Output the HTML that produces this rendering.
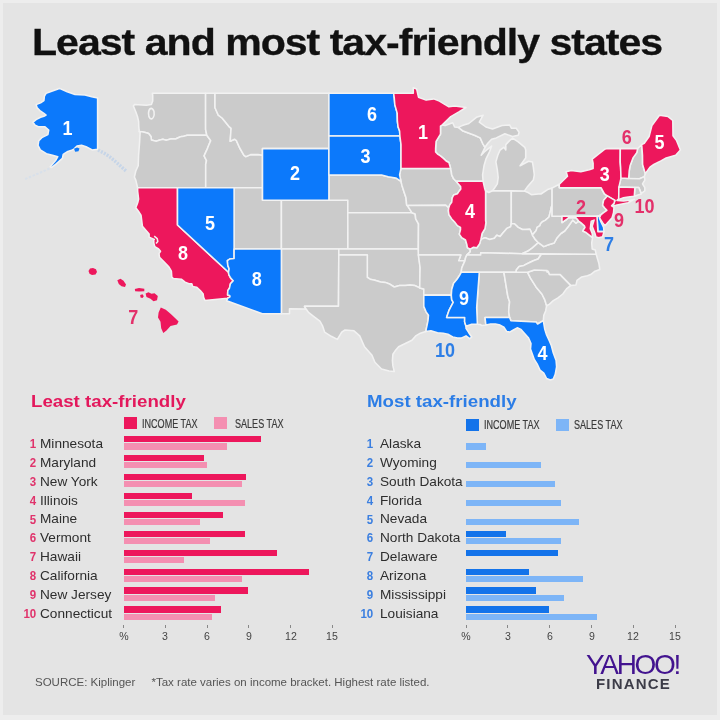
<!DOCTYPE html>
<html><head><meta charset="utf-8">
<style>
*{margin:0;padding:0;box-sizing:border-box}
html,body{width:720px;height:720px;overflow:hidden}
body{background:#e4e4e4;font-family:"Liberation Sans",sans-serif;position:relative}
.frame{position:absolute;left:0;top:0;width:720px;height:720px;border:solid #ededed;border-width:3px 3px 5px 3px}
.title{position:absolute;left:32.2px;top:21.8px;font-weight:bold;font-size:37px;color:#111;white-space:nowrap;
 letter-spacing:-0.9px;-webkit-text-stroke:0.3px #111;transform-origin:0 0;transform:scaleX(1.11)}
svg{position:absolute;left:0;top:0}
.lab text{font-family:"Liberation Sans",sans-serif;font-weight:bold;font-size:20px;text-anchor:middle;stroke:none}
.stitle{position:absolute;top:391.8px;font-weight:bold;font-size:17px;white-space:nowrap;transform-origin:0 0;transform:scaleX(1.1)}
.lsq{position:absolute;width:13px;height:12px}
.ltx{position:absolute;font-size:12px;color:#3a3a3a;-webkit-text-stroke:0.2px #3a3a3a;white-space:nowrap;transform-origin:0 0;transform:scaleX(0.755)}
.num{position:absolute;font-size:12.8px;font-weight:bold;white-space:nowrap;transform-origin:right top;transform:scaleX(0.9)}
.nm{position:absolute;font-size:13px;color:#2e2e2e;white-space:nowrap;transform-origin:0 0;transform:scaleX(1.05)}
.bar{position:absolute;height:6.3px}
.tick{position:absolute;top:625px;width:1px;height:3px;background:#888}
.tl{position:absolute;top:630px;width:30px;text-align:center;font-size:11.5px;color:#444;transform:scaleX(0.92)}
.foot{position:absolute;top:676px;font-size:11.5px;color:#555;white-space:nowrap}
.yahoo{position:absolute;left:586px;top:648.5px;font-size:28px;color:#42138f;letter-spacing:-2.3px;white-space:nowrap}
.fin{position:absolute;left:596px;top:675px;font-size:15px;font-weight:bold;color:#3c3c48;letter-spacing:1.2px;white-space:nowrap}
#wrap{position:absolute;left:0;top:0;width:720px;height:720px;background:#e4e4e4;filter:blur(0.3px)}
</style></head><body><div id="wrap">
<div class="frame"></div>
<div class="title">Least and most tax-friendly states</div>
<svg width="720" height="720" viewBox="0 0 720 720">
<g stroke="#f2f2f2" stroke-width="1.55" stroke-linejoin="round">
<path d="M152.4,93.2 205.6,93.2 205.6,129.3 206.8,135.2 187.2,135.2 183.7,136.2 180.4,136.8 175.6,139.0 171.4,138.8 166.2,140.3 162.8,139.2 159.0,140.2 156.2,141.3 151.4,139.9 151.0,136.5 148.6,133.5 145.3,132.4 142.0,131.8 139.3,131.6 138.8,127.0 138.6,121.4 137.7,117.3 135.8,111.7 133.4,106.0 134.4,104.6 138.6,104.8 146.2,105.2 151.4,104.6 152.7,101.1 152.7,95.4Z" fill="#cbcbcb"/>
<path d="M139.3,131.6 142.0,131.8 145.3,132.4 148.6,133.5 151.0,136.5 151.4,139.9 156.2,141.3 159.0,140.2 162.8,139.2 166.2,140.3 171.4,138.8 175.6,139.0 180.4,136.8 183.7,136.2 187.2,135.2 206.8,135.2 210.7,140.6 208.4,146.0 207.4,148.6 204.1,155.9 206.5,160.6 205.7,164.5 205.7,187.7 177.5,187.7 137.6,187.7 135.8,180.1 134.4,177.0 135.8,171.0 138.2,165.8 138.6,155.3 139.6,141.9 140.1,132.4Z" fill="#cbcbcb"/>
<path d="M205.6,93.2 215.0,93.2 215.0,107.7 218.3,115.2 222.1,118.0 228.8,126.3 231.1,128.3 230.2,141.3 234.5,139.2 236.4,140.6 239.7,148.0 244.0,155.3 245.9,156.6 250.6,154.6 258.2,154.6 262.5,155.3 262.5,187.7 205.7,187.7 205.7,164.5 206.5,160.6 204.1,155.9 207.4,148.6 208.4,146.0 210.7,140.6 206.8,135.2 205.6,129.3Z" fill="#cbcbcb"/>
<path d="M215.0,93.2 328.9,93.2 328.9,148.6 262.5,148.6 262.5,155.3 258.2,154.6 250.6,154.6 245.9,156.6 244.0,155.3 239.7,148.0 236.4,140.6 234.5,139.2 230.2,141.3 231.1,128.3 228.8,126.3 222.1,118.0 218.3,115.2 215.0,107.7Z" fill="#cbcbcb"/>
<path d="M234.1,187.7 262.5,187.7 262.5,200.3 281.4,200.3 281.4,249.0 234.1,249.0Z" fill="#cbcbcb"/>
<path d="M281.4,200.3 347.8,200.3 347.8,249.0 281.4,249.0Z" fill="#cbcbcb"/>
<path d="M281.4,249.0 338.8,249.0 338.8,254.9 338.5,306.3 304.5,306.3 306.1,309.0 289.5,308.7 289.5,313.7 281.4,313.7Z" fill="#cbcbcb"/>
<path d="M328.9,174.9 381.5,174.9 388.2,176.8 395.8,177.9 401.0,181.3 401.9,185.2 404.3,192.8 406.0,197.8 406.7,205.3 407.4,205.6 411.9,212.7 347.8,212.7 347.8,200.3 328.9,200.3Z" fill="#cbcbcb"/>
<path d="M347.8,212.7 411.9,212.7 415.2,214.0 415.7,218.9 418.5,223.8 418.3,249.0 347.9,249.0Z" fill="#cbcbcb"/>
<path d="M338.8,249.0 418.3,249.0 420.1,267.7 419.7,287.9 414.7,285.5 410.0,285.1 405.3,285.5 399.6,285.5 394.3,287.0 390.1,284.3 385.3,282.4 380.6,282.1 374.9,280.3 370.1,279.2 367.3,277.4 367.3,254.9 338.8,254.9Z" fill="#cbcbcb"/>
<path d="M338.8,254.9 367.3,254.9 367.3,277.4 370.1,279.2 374.9,280.3 380.6,282.1 385.3,282.4 390.1,284.3 394.3,287.0 399.6,285.5 405.3,285.5 410.0,285.1 414.7,285.5 419.7,287.9 423.8,288.9 423.8,295.1 423.8,306.4 426.1,311.9 428.5,315.2 428.0,320.7 427.1,325.1 425.7,331.6 420.4,333.2 415.7,335.9 411.9,340.3 405.3,343.5 398.6,346.7 395.8,349.9 392.9,354.2 392.4,360.6 392.9,365.9 394.3,371.6 389.1,371.1 381.5,369.0 374.9,362.2 372.0,355.3 364.5,346.7 359.7,335.9 354.0,330.8 345.0,330.0 341.7,332.1 337.4,339.4 331.2,336.3 324.6,332.1 322.7,326.2 319.9,321.2 314.2,316.8 308.5,312.4 306.1,309.0 304.5,306.3 338.5,306.3Z" fill="#cbcbcb"/>
<path d="M401.0,168.4 450.6,168.4 451.3,171.7 451.7,174.9 453.6,178.8 456.1,181.3 458.4,183.9 460.6,186.4 460.8,189.0 459.3,190.9 457.4,193.8 453.6,195.1 452.2,197.8 451.7,202.2 449.8,204.7 448.7,208.0 445.8,205.2 407.4,205.6 406.7,205.3 406.0,197.8 404.3,192.8 401.9,185.2 401.0,181.3 399.6,174.9Z" fill="#cbcbcb"/>
<path d="M407.4,205.6 445.8,205.2 448.7,208.0 448.4,210.9 448.9,214.6 451.7,218.9 455.1,222.6 457.4,225.6 460.5,227.4 460.5,229.8 459.3,234.1 461.7,237.7 465.5,240.0 466.9,244.8 467.4,247.8 470.2,249.2 470.2,251.9 466.9,254.9 465.5,257.8 465.0,260.7 458.7,260.7 460.8,254.9 418.3,254.9 418.5,223.8 415.7,218.9 415.2,214.0 411.9,212.7 407.4,205.6Z" fill="#cbcbcb"/>
<path d="M418.3,254.9 460.8,254.9 458.7,260.7 465.0,260.7 463.1,264.8 461.7,268.3 461.2,272.3 459.3,275.8 457.0,279.2 453.6,283.2 451.7,289.5 451.3,295.1 423.8,295.1 423.8,288.9 419.7,287.9 420.1,267.7Z" fill="#cbcbcb"/>
<path d="M442.3,124.9 440.5,126.1 440.5,134.1 436.1,141.3 435.6,148.6 435.6,152.0 438.0,154.4 440.4,155.9 443.7,158.6 446.1,161.0 448.9,162.5 450.6,168.4 451.3,171.7 451.7,174.9 453.6,178.8 456.1,181.3 483.1,181.3 482.6,174.9 484.0,165.8 485.9,159.2 489.7,151.3 491.6,146.0 485.0,151.3 481.2,155.3 485.0,147.3 482.6,143.3 480.2,137.9 474.5,135.2 463.1,131.1 458.4,127.4 454.6,127.0 452.7,122.8 445.1,125.6Z" fill="#cbcbcb"/>
<path d="M485.6,190.8 488.7,192.5 492.5,190.8 511.3,190.8 511.3,223.8 510.6,226.8 506.8,228.4 502.5,233.5 500.1,236.5 496.8,235.3 494.4,238.3 489.7,239.4 485.0,237.7 480.9,239.4 482.1,233.5 485.0,228.6 485.9,222.6 485.6,220.7Z" fill="#cbcbcb"/>
<path d="M511.3,190.8 524.3,191.1 528.6,192.8 531.4,194.7 538.1,194.0 540.9,194.0 547.6,189.6 552.1,188.0 552.1,204.8 551.2,207.8 550.2,212.1 549.0,217.0 545.2,220.4 542.4,221.7 540.5,223.8 540.0,225.6 537.1,227.4 536.2,230.4 532.4,235.0 530.0,229.2 525.7,229.6 522.4,229.5 518.2,227.4 514.4,223.8 511.3,223.8Z" fill="#cbcbcb"/>
<path d="M532.4,235.0 530.0,229.2 525.7,229.6 522.4,229.5 518.2,227.4 514.4,223.8 511.3,223.8 510.6,226.8 506.8,228.4 502.5,233.5 500.1,236.5 496.8,235.3 494.4,238.3 489.7,239.4 485.0,237.7 480.9,239.4 479.7,243.6 476.9,247.8 473.6,247.2 470.2,249.2 470.2,251.9 466.9,254.9 480.7,254.9 480.7,252.7 522.1,253.7 528.6,250.7 532.4,247.8 535.2,245.4 538.4,242.7 535.2,239.4 532.4,235.0Z" fill="#cbcbcb"/>
<path d="M466.9,254.9 480.7,254.9 480.7,252.7 522.1,253.7 541.4,253.7 538.1,259.0 533.3,260.7 528.6,263.0 523.9,265.4 519.1,266.5 516.3,270.0 516.1,272.3 503.9,272.3 479.3,272.3 461.2,272.3 461.7,268.3 463.1,264.8 465.0,260.7 465.5,257.8 466.9,254.9Z" fill="#cbcbcb"/>
<path d="M479.3,272.3 503.9,272.3 507.9,296.8 509.6,301.8 509.1,306.3 508.7,311.9 509.6,317.4 485.0,317.4 485.9,325.1 482.1,325.6 480.2,324.5 477.4,324.2 476.7,307.4Z" fill="#cbcbcb"/>
<path d="M503.9,272.3 516.1,272.3 527.6,272.3 530.5,278.1 536.2,287.2 541.9,294.0 544.7,299.6 546.6,305.7 545.7,310.7 543.8,315.2 543.3,320.7 537.6,324.0 536.2,322.1 510.9,320.7 509.6,317.4 508.7,311.9 509.1,306.3 509.6,301.8 507.9,296.8 503.9,272.3Z" fill="#cbcbcb"/>
<path d="M527.6,272.3 534.3,270.0 547.1,270.6 547.2,271.9 548.2,271.2 549.5,274.4 560.2,274.6 570.8,285.4 566.5,288.9 562.8,294.0 558.0,297.9 553.3,300.7 549.5,304.1 546.6,305.7 544.7,299.6 541.9,294.0 536.2,287.2 530.5,278.1 527.6,272.3Z" fill="#cbcbcb"/>
<path d="M516.1,272.3 527.6,272.3 534.3,270.0 547.1,270.6 547.2,271.9 548.2,271.2 549.5,274.4 560.2,274.6 570.8,285.4 576.0,284.9 577.0,280.3 581.7,276.9 587.4,275.8 590.7,274.6 595.0,271.2 599.8,269.4 598.8,263.0 597.4,258.4 596.2,254.3 541.4,254.3 538.1,259.0 533.3,260.7 528.6,263.0 523.9,265.4 519.1,266.5 516.3,270.0 516.1,272.3Z" fill="#cbcbcb"/>
<path d="M522.1,253.7 541.4,253.7 596.2,254.3 595.3,250.1 592.2,249.0 591.7,243.0 592.6,237.7 590.3,235.9 585.5,232.2 582.7,231.0 585.0,227.4 584.4,225.8 580.8,222.6 578.7,221.1 576.0,223.2 572.7,220.1 568.4,226.2 564.7,231.0 560.9,233.5 557.1,237.7 554.2,243.0 548.5,244.8 543.8,246.6 538.4,242.7 535.2,245.4 532.4,247.8 528.6,250.7 522.1,253.7Z" fill="#cbcbcb"/>
<path d="M538.4,242.7 535.2,239.4 532.4,235.0 536.2,230.4 537.1,227.4 540.0,225.6 540.5,223.8 542.4,221.7 545.2,220.4 549.0,217.0 550.2,212.1 551.2,207.8 552.1,204.8 552.1,216.2 562.0,216.2 562.0,222.6 566.5,219.5 568.4,217.7 572.2,217.7 576.0,217.7 578.7,221.1 576.0,223.2 572.7,220.1 568.4,226.2 564.7,231.0 560.9,233.5 557.1,237.7 554.2,243.0 548.5,244.8 543.8,246.6 538.4,242.7Z" fill="#cbcbcb"/>
<path d="M492.5,190.8 511.3,190.8 524.3,191.1 527.2,187.1 533.3,180.1 534.3,174.9 533.3,167.1 532.4,161.9 528.6,161.2 524.8,163.2 520.1,165.8 525.7,157.9 525.7,150.0 524.8,147.3 518.2,141.9 512.5,138.1 509.6,140.6 505.8,144.6 505.8,150.0 503.9,147.3 500.1,150.0 497.8,155.3 495.9,161.9 497.3,169.7 498.2,177.5 497.3,183.9 494.4,188.3Z" fill="#cbcbcb"/>
<path d="M458.4,127.4 463.1,131.1 474.5,135.2 480.2,137.9 482.6,143.3 485.0,147.3 487.8,143.3 491.6,139.2 496.3,137.9 504.9,133.8 512.5,136.5 518.2,135.2 519.1,132.4 516.3,128.3 511.5,128.3 509.6,124.9 502.0,125.6 492.5,129.0 485.9,127.0 479.3,122.1 481.2,118.7 483.1,115.2 476.4,117.3 468.8,123.5 462.2,125.6Z" fill="#cbcbcb"/>
<path d="M552.1,188.0 552.1,216.2 562.0,216.2 597.0,216.2 600.5,215.2 603.6,212.7 606.9,210.3 604.5,207.8 602.6,205.3 603.6,200.3 607.3,195.9 604.5,194.0 601.7,189.0 601.2,187.7 559.3,187.7 559.3,184.3Z" fill="#cbcbcb"/>
<path d="M637.7,148.5 636.8,152.6 633.0,157.9 630.1,165.8 629.2,171.0 628.7,178.4 639.6,178.8 644.3,176.6 645.3,173.6 642.6,164.5 642.5,155.3 641.7,144.6Z" fill="#cbcbcb"/>
<path d="M618.7,187.1 621.0,178.1 628.7,178.4 639.6,178.8 644.3,176.6 644.8,180.1 642.5,183.9 644.8,187.7 644.8,190.9 641.3,193.4 638.8,187.5 634.9,187.5Z" fill="#cbcbcb"/>
<path d="M634.9,187.5 638.8,187.5 641.3,194.0 638.7,194.7 634.3,196.3Z" fill="#cbcbcb"/>
<path d="M137.6,187.7 177.5,187.7 177.5,225.0 228.5,272.3 228.8,274.6 230.7,278.1 233.2,280.7 230.4,283.8 229.4,288.3 227.8,290.6 227.6,295.1 229.7,295.4 230.0,296.9 227.6,298.2 204.9,300.4 203.6,297.3 203.2,294.0 200.3,290.6 196.5,287.2 192.7,286.6 191.8,283.8 188.9,283.8 185.1,282.1 181.3,279.2 173.3,278.6 171.8,276.9 171.4,271.2 169.0,267.1 165.2,263.0 159.5,257.2 159.0,253.7 160.5,251.3 158.6,249.0 154.8,246.6 153.8,243.0 153.8,239.7 154.3,239.4 149.1,237.1 149.1,234.1 142.4,226.2 141.5,218.9 141.0,215.2 138.6,211.5 135.8,207.8 137.7,202.8 138.6,199.1 137.7,191.5Z" fill="#ed175c"/>
<path d="M177.5,187.7 234.1,187.7 234.1,258.4 229.7,259.0 227.4,260.7 227.8,265.4 229.1,268.8 228.5,272.3 177.5,225.0Z" fill="#0c79fb"/>
<path d="M262.5,148.6 328.9,148.6 328.9,200.3 262.5,200.3Z" fill="#0c79fb"/>
<path d="M234.1,249.0 281.4,249.0 281.4,313.7 262.3,313.7 226.7,300.7 227.6,298.2 230.0,296.9 229.7,295.4 227.6,295.1 227.8,290.6 229.4,288.3 230.4,283.8 233.2,280.7 230.7,278.1 228.8,274.6 228.5,272.3 229.1,268.8 227.8,265.4 227.4,260.7 229.7,259.0 234.1,258.4Z" fill="#0c79fb"/>
<path d="M328.9,93.2 393.6,93.2 394.3,98.2 394.8,104.6 397.2,113.1 397.4,121.4 398.1,127.0 399.6,131.1 399.9,136.0 328.9,136.0Z" fill="#0c79fb"/>
<path d="M328.9,136.0 399.9,136.0 401.0,144.6 401.0,168.4 399.6,174.9 401.0,181.3 395.8,177.9 388.2,176.8 381.5,174.9 328.9,174.9Z" fill="#0c79fb"/>
<path d="M393.6,93.2 413.3,93.2 413.3,87.7 416.6,88.9 418.5,97.2 426.1,100.1 433.7,98.9 439.4,101.1 448.9,106.8 454.6,106.0 466.0,107.5 459.3,111.7 450.8,116.6 442.3,124.9 440.5,126.1 440.5,134.1 436.1,141.3 435.6,148.6 435.6,152.0 438.0,154.4 440.4,155.9 443.7,158.6 446.1,161.0 448.9,162.5 450.6,168.4 401.0,168.4 401.0,144.6 399.9,136.0 399.6,131.1 398.1,127.0 397.4,121.4 397.2,113.1 394.8,104.6 394.3,98.2 393.6,93.2Z" fill="#ed175c"/>
<path d="M423.8,295.1 451.3,295.1 451.7,299.6 453.2,302.4 450.8,306.9 448.9,310.7 446.6,317.4 464.7,317.4 464.6,321.8 466.0,326.2 466.0,328.3 468.8,332.7 471.7,337.0 469.8,338.7 466.0,335.9 461.2,338.1 457.4,338.1 452.7,337.0 447.9,334.3 443.2,333.2 437.5,332.7 430.9,330.8 425.7,331.6 427.1,325.1 428.0,320.7 428.5,315.2 426.1,311.9 423.8,306.4 423.8,295.1Z" fill="#0c79fb"/>
<path d="M456.1,181.3 483.1,181.3 484.5,187.7 485.6,191.5 485.6,220.7 485.9,222.6 485.0,228.6 482.1,233.5 480.9,239.4 479.7,243.6 476.9,247.8 473.6,247.2 470.2,249.2 467.4,247.8 466.9,244.8 465.5,240.0 461.7,237.7 459.3,234.1 460.5,229.8 460.5,227.4 457.4,225.6 455.1,222.6 451.7,218.9 448.9,214.6 448.4,210.9 448.7,208.0 449.8,204.7 451.7,202.2 452.2,197.8 453.6,195.1 457.4,193.8 459.3,190.9 460.8,189.0 460.6,186.4 458.4,183.9 456.1,181.3Z" fill="#ed175c"/>
<path d="M461.2,272.3 479.3,272.3 476.7,307.4 477.4,324.2 471.7,324.2 466.0,326.2 464.6,321.8 464.7,317.4 446.6,317.4 448.9,310.7 450.8,306.9 453.2,302.4 451.7,299.6 451.3,295.1 451.7,289.5 453.6,283.2 457.0,279.2 459.3,275.8 461.2,272.3Z" fill="#0c79fb"/>
<path d="M543.3,320.7 537.6,324.0 536.2,322.1 510.9,320.7 509.6,317.4 485.0,317.4 485.9,325.1 490.6,324.0 495.4,324.0 500.1,325.1 503.9,327.2 506.8,331.6 509.6,332.1 513.4,330.0 517.2,327.8 521.0,329.4 524.8,333.8 528.6,338.1 531.0,343.5 530.5,348.9 532.4,354.2 534.3,359.5 537.1,363.8 540.0,370.1 543.8,373.2 546.6,378.5 550.4,380.0 553.3,379.0 555.2,374.3 556.6,366.9 556.1,360.6 553.3,353.1 551.4,345.7 549.5,341.3 546.6,334.9 544.7,328.9 543.3,320.7Z" fill="#0c79fb"/>
<path d="M559.3,187.7 601.2,187.7 601.7,189.0 604.5,194.0 607.3,195.9 614.9,200.3 614.0,203.4 611.6,205.9 615.9,205.3 628.2,202.8 634.3,199.4 630.1,200.3 623.5,200.9 617.2,200.6 617.2,200.3 618.7,199.1 618.9,187.1 621.0,178.1 620.6,167.1 620.2,161.9 620.3,148.6 607.3,148.6 604.5,149.3 596.9,155.3 592.2,159.2 593.1,163.2 593.1,168.4 589.3,169.7 580.8,171.7 571.3,170.4 566.1,171.7 567.5,176.2 559.3,184.3Z" fill="#ed175c"/>
<path d="M620.3,148.6 637.7,148.5 636.8,152.6 633.0,157.9 630.1,165.8 629.2,171.0 628.7,178.4 621.0,178.1 620.6,167.1 620.2,161.9Z" fill="#ed175c"/>
<path d="M641.7,144.6 644.3,143.3 649.1,136.5 651.9,125.6 659.5,115.2 668.1,116.6 672.8,120.5 673.0,135.8 676.6,140.6 680.4,150.0 675.7,155.3 666.2,157.9 661.4,160.6 653.8,164.5 650.0,167.1 645.3,173.6 642.6,164.5 642.5,155.3Z" fill="#ed175c"/>
<path d="M618.9,187.1 634.9,187.5 634.3,196.3 628.2,196.9 623.5,197.8 617.2,200.3 618.7,199.1Z" fill="#ed175c"/>
<path d="M607.3,195.9 614.9,200.3 614.0,203.4 611.6,205.9 614.0,207.2 613.5,212.7 612.1,217.7 608.3,221.9 605.0,225.8 602.6,222.6 599.3,217.7 600.5,215.2 603.6,212.7 606.9,210.3 604.5,207.8 602.6,205.3 603.6,200.3Z" fill="#ed175c"/>
<path d="M597.0,216.2 600.5,215.2 599.3,217.7 600.7,221.3 603.6,227.4 604.0,231.6 597.9,231.6Z" fill="#0c79fb"/>
<path d="M562.0,216.2 597.0,216.2 597.9,231.6 604.0,231.6 602.6,236.7 598.8,237.7 596.0,237.1 595.0,233.5 592.2,226.2 594.1,220.1 591.2,221.3 590.3,228.6 592.2,233.5 592.6,237.7 590.3,235.9 585.5,232.2 582.7,231.0 585.0,227.4 584.4,225.8 580.8,222.6 578.7,221.1 576.0,217.7 572.2,217.7 568.4,217.7 566.5,219.5 562.0,222.6 562.0,216.2Z" fill="#ed175c"/>
<path d="M59.4,88.4 67.2,91.8 75.0,94.6 85.0,95.1 91.7,96.8 97.6,97.9 97.6,149.3 92.2,149.9 86.1,146.8 81.5,145.3 77.0,146.0 73.9,149.1 70.8,150.6 67.8,151.4 63.2,154.4 62.4,158.3 55.6,164.4 51.7,167.4 50.2,166.7 55.6,160.6 57.8,156.7 52.5,155.2 46.4,153.7 40.3,149.9 38.0,145.3 38.8,140.7 41.8,137.6 47.9,134.6 48.7,130.0 45.0,126.8 38.3,126.8 35.0,125.1 32.8,122.3 36.1,119.6 40.6,117.3 43.9,116.2 46.1,115.1 43.9,113.4 40.6,111.2 37.2,107.9 36.1,104.6 40.6,102.9 43.9,100.7 44.4,96.2 46.1,93.4 51.7,91.2Z" fill="#0c79fb"/>
<path d="M154.2,236.2 L157.2,238.6 L157.8,241.5 L156,243.5" fill="none"/>
<path d="M150.5,108.5 C148,110 147.8,116.5 150.2,118.6 C152.8,120 154.8,116 154,111.5 C153.5,109.5 152,108 150.5,108.5Z" fill="none"/>
</g>
<path d="M88.5,271.0 90.0,268.5 93.0,268.0 96.0,269.3 97.0,272.0 95.5,274.5 92.0,275.0 89.5,273.8Z" fill="#ed175c"/>
<path d="M117.3,280.2 120.5,278.8 123.5,280.8 126.0,284.5 125.0,287.0 121.5,286.3 118.8,284.0Z" fill="#ed175c"/>
<path d="M134.8,289.0 139.0,288.1 144.3,288.8 144.3,291.2 139.0,291.4 135.2,291.3Z" fill="#ed175c"/>
<path d="M140.2,295.0 142.5,294.2 143.8,296.2 142.5,298.0 140.5,297.5Z" fill="#ed175c"/>
<path d="M145.6,293.6 148.5,292.3 151.5,293.8 154.5,293.3 157.8,296.0 157.0,300.2 153.5,301.2 150.5,298.8 146.5,297.0Z" fill="#ed175c"/>
<path d="M160.8,307.6 165.8,309.8 170.8,314.0 174.5,317.5 178.6,321.5 177.0,324.4 170.5,326.0 166.5,330.5 163.3,333.0 161.2,328.3 160.5,321.7 158.0,317.5 158.6,312.5Z" fill="#ed175c"/>
<g stroke="#c6d5e8" stroke-width="3.4" stroke-dasharray="2 1.3" fill="none">
<path d="M98,150 L104,153 L110,157 L116,162 L121,166.5 L126,171"/>
</g>
<path d="M49.5,168.5 L44,171 L37,174 L30,177 L24,179.5" stroke="#d8e0ea" stroke-width="2" stroke-dasharray="2.5 1.5" fill="none"/>
<path d="M74,148.8 L77,147.4 L79.5,148.6 L78.5,151.3 L75.2,151.8Z" fill="#0c79fb"/>
<g class="lab">
<text transform="translate(67.5,135.2) scale(0.9,1)" fill="#fff">1</text>
<text transform="translate(372.0,121.2) scale(0.9,1)" fill="#fff">6</text>
<text transform="translate(365.5,163.2) scale(0.9,1)" fill="#fff">3</text>
<text transform="translate(295.0,180.2) scale(0.9,1)" fill="#fff">2</text>
<text transform="translate(423.0,138.7) scale(0.9,1)" fill="#fff">1</text>
<text transform="translate(210.0,229.8) scale(0.9,1)" fill="#fff">5</text>
<text transform="translate(183.0,259.5) scale(0.9,1)" fill="#fff">8</text>
<text transform="translate(256.8,285.5) scale(0.9,1)" fill="#fff">8</text>
<text transform="translate(470.0,217.8) scale(0.9,1)" fill="#fff">4</text>
<text transform="translate(604.7,180.5) scale(0.9,1)" fill="#fff">3</text>
<text transform="translate(659.4,149.4) scale(0.9,1)" fill="#fff">5</text>
<text transform="translate(626.7,144.4) scale(0.9,1)" fill="#e3306a">6</text>
<text transform="translate(581.0,214.4) scale(0.9,1)" fill="#e3306a">2</text>
<text transform="translate(644.4,212.7) scale(0.9,1)" fill="#e3306a">10</text>
<text transform="translate(618.9,226.7) scale(0.9,1)" fill="#e3306a">9</text>
<text transform="translate(608.9,251.1) scale(0.9,1)" fill="#2d7ee6">7</text>
<text transform="translate(464.0,304.7) scale(0.9,1)" fill="#fff">9</text>
<text transform="translate(445.0,357.2) scale(0.9,1)" fill="#2d7ee6">10</text>
<text transform="translate(542.5,360.2) scale(0.9,1)" fill="#fff">4</text>
<text transform="translate(133.3,323.5) scale(0.9,1)" fill="#e3306a">7</text>
</g>
</svg>
<div class="stitle" style="left:31.3px;color:#e3185c">Least tax-friendly</div>
<div class="lsq" style="left:123.7px;top:417.0px;background:#ed175c"></div>
<div class="ltx" style="left:141.9px;top:416.5px">INCOME TAX</div>
<div class="lsq" style="left:214.2px;top:417.0px;background:#f48fb1"></div>
<div class="ltx" style="left:234.5px;top:416.5px">SALES TAX</div>
<div class="num" style="right:684.0px;top:436.2px;color:#e0336b">1</div>
<div class="nm" style="left:40.3px;top:435.9px">Minnesota</div>
<div class="bar" style="left:123.7px;top:435.8px;width:136.9px;background:#ed175c"></div>
<div class="bar" style="left:123.7px;top:443.3px;width:103.3px;background:#f48fb1"></div>
<div class="num" style="right:684.0px;top:455.1px;color:#e0336b">2</div>
<div class="nm" style="left:40.3px;top:454.8px">Maryland</div>
<div class="bar" style="left:123.7px;top:454.8px;width:79.9px;background:#ed175c"></div>
<div class="bar" style="left:123.7px;top:462.2px;width:83.4px;background:#f48fb1"></div>
<div class="num" style="right:684.0px;top:473.9px;color:#e0336b">3</div>
<div class="nm" style="left:40.3px;top:473.6px">New York</div>
<div class="bar" style="left:123.7px;top:473.7px;width:122.6px;background:#ed175c"></div>
<div class="bar" style="left:123.7px;top:481.2px;width:118.0px;background:#f48fb1"></div>
<div class="num" style="right:684.0px;top:492.8px;color:#e0336b">4</div>
<div class="nm" style="left:40.3px;top:492.5px">Illinois</div>
<div class="bar" style="left:123.7px;top:492.6px;width:68.8px;background:#ed175c"></div>
<div class="bar" style="left:123.7px;top:500.1px;width:121.5px;background:#f48fb1"></div>
<div class="num" style="right:684.0px;top:511.6px;color:#e0336b">5</div>
<div class="nm" style="left:40.3px;top:511.3px">Maine</div>
<div class="bar" style="left:123.7px;top:511.6px;width:99.4px;background:#ed175c"></div>
<div class="bar" style="left:123.7px;top:519.1px;width:76.5px;background:#f48fb1"></div>
<div class="num" style="right:684.0px;top:530.4px;color:#e0336b">6</div>
<div class="nm" style="left:40.3px;top:530.1px">Vermont</div>
<div class="bar" style="left:123.7px;top:530.5px;width:121.6px;background:#ed175c"></div>
<div class="bar" style="left:123.7px;top:538.0px;width:85.9px;background:#f48fb1"></div>
<div class="num" style="right:684.0px;top:549.3px;color:#e0336b">7</div>
<div class="nm" style="left:40.3px;top:549.0px">Hawaii</div>
<div class="bar" style="left:123.7px;top:549.5px;width:152.9px;background:#ed175c"></div>
<div class="bar" style="left:123.7px;top:557.0px;width:60.5px;background:#f48fb1"></div>
<div class="num" style="right:684.0px;top:568.1px;color:#e0336b">8</div>
<div class="nm" style="left:40.3px;top:567.9px">California</div>
<div class="bar" style="left:123.7px;top:568.5px;width:184.9px;background:#ed175c"></div>
<div class="bar" style="left:123.7px;top:576.0px;width:118.2px;background:#f48fb1"></div>
<div class="num" style="right:684.0px;top:587.0px;color:#e0336b">9</div>
<div class="nm" style="left:40.3px;top:586.7px">New Jersey</div>
<div class="bar" style="left:123.7px;top:587.4px;width:124.7px;background:#ed175c"></div>
<div class="bar" style="left:123.7px;top:594.9px;width:91.7px;background:#f48fb1"></div>
<div class="num" style="right:684.0px;top:605.9px;color:#e0336b">10</div>
<div class="nm" style="left:40.3px;top:605.6px">Connecticut</div>
<div class="bar" style="left:123.7px;top:606.4px;width:97.2px;background:#ed175c"></div>
<div class="bar" style="left:123.7px;top:613.9px;width:88.3px;background:#f48fb1"></div>
<div class="tick" style="left:123.2px"></div>
<div class="tl" style="left:108.7px">%</div>
<div class="tick" style="left:164.9px"></div>
<div class="tl" style="left:150.4px">3</div>
<div class="tick" style="left:206.7px"></div>
<div class="tl" style="left:192.2px">6</div>
<div class="tick" style="left:248.4px"></div>
<div class="tl" style="left:233.9px">9</div>
<div class="tick" style="left:290.2px"></div>
<div class="tl" style="left:275.7px">12</div>
<div class="tick" style="left:331.9px"></div>
<div class="tl" style="left:317.4px">15</div>
<div class="stitle" style="left:367.3px;color:#2c7de6">Most tax-friendly</div>
<div class="lsq" style="left:466.2px;top:418.5px;background:#1373ea"></div>
<div class="ltx" style="left:484.4px;top:418.0px">INCOME TAX</div>
<div class="lsq" style="left:556.2px;top:418.5px;background:#7db5f7"></div>
<div class="ltx" style="left:573.5px;top:418.0px">SALES TAX</div>
<div class="num" style="right:346.5px;top:436.2px;color:#3b7fe0">1</div>
<div class="nm" style="left:380.0px;top:435.9px">Alaska</div>
<div class="bar" style="left:466.2px;top:443.3px;width:19.7px;background:#7db5f7"></div>
<div class="num" style="right:346.5px;top:455.1px;color:#3b7fe0">2</div>
<div class="nm" style="left:380.0px;top:454.8px">Wyoming</div>
<div class="bar" style="left:466.2px;top:462.2px;width:75.1px;background:#7db5f7"></div>
<div class="num" style="right:346.5px;top:473.9px;color:#3b7fe0">3</div>
<div class="nm" style="left:380.0px;top:473.6px">South Dakota</div>
<div class="bar" style="left:466.2px;top:481.2px;width:88.8px;background:#7db5f7"></div>
<div class="num" style="right:346.5px;top:492.8px;color:#3b7fe0">4</div>
<div class="nm" style="left:380.0px;top:492.5px">Florida</div>
<div class="bar" style="left:466.2px;top:500.1px;width:94.5px;background:#7db5f7"></div>
<div class="num" style="right:346.5px;top:511.6px;color:#3b7fe0">5</div>
<div class="nm" style="left:380.0px;top:511.3px">Nevada</div>
<div class="bar" style="left:466.2px;top:519.1px;width:112.6px;background:#7db5f7"></div>
<div class="num" style="right:346.5px;top:530.4px;color:#3b7fe0">6</div>
<div class="nm" style="left:380.0px;top:530.1px">North Dakota</div>
<div class="bar" style="left:466.2px;top:530.5px;width:40.3px;background:#1373ea"></div>
<div class="bar" style="left:466.2px;top:538.0px;width:94.5px;background:#7db5f7"></div>
<div class="num" style="right:346.5px;top:549.3px;color:#3b7fe0">7</div>
<div class="nm" style="left:380.0px;top:549.0px">Delaware</div>
<div class="bar" style="left:466.2px;top:549.5px;width:91.7px;background:#1373ea"></div>
<div class="num" style="right:346.5px;top:568.1px;color:#3b7fe0">8</div>
<div class="nm" style="left:380.0px;top:567.9px">Arizona</div>
<div class="bar" style="left:466.2px;top:568.5px;width:63.1px;background:#1373ea"></div>
<div class="bar" style="left:466.2px;top:576.0px;width:116.8px;background:#7db5f7"></div>
<div class="num" style="right:346.5px;top:587.0px;color:#3b7fe0">9</div>
<div class="nm" style="left:380.0px;top:586.7px">Mississippi</div>
<div class="bar" style="left:466.2px;top:587.4px;width:69.5px;background:#1373ea"></div>
<div class="bar" style="left:466.2px;top:594.9px;width:98.3px;background:#7db5f7"></div>
<div class="num" style="right:346.5px;top:605.9px;color:#3b7fe0">10</div>
<div class="nm" style="left:380.0px;top:605.6px">Louisiana</div>
<div class="bar" style="left:466.2px;top:606.4px;width:82.8px;background:#1373ea"></div>
<div class="bar" style="left:466.2px;top:613.9px;width:130.7px;background:#7db5f7"></div>
<div class="tick" style="left:465.7px"></div>
<div class="tl" style="left:451.2px">%</div>
<div class="tick" style="left:507.4px"></div>
<div class="tl" style="left:492.9px">3</div>
<div class="tick" style="left:549.2px"></div>
<div class="tl" style="left:534.7px">6</div>
<div class="tick" style="left:591.0px"></div>
<div class="tl" style="left:576.5px">9</div>
<div class="tick" style="left:632.7px"></div>
<div class="tl" style="left:618.2px">12</div>
<div class="tick" style="left:674.5px"></div>
<div class="tl" style="left:660.0px">15</div>
<div class="foot" style="left:35px">SOURCE: Kiplinger</div>
<div class="foot" style="left:151.5px">*Tax rate varies on income bracket. Highest rate listed.</div>
<div class="yahoo">YAHOO!</div>
<div class="fin">FINANCE</div>
</div></body></html>
